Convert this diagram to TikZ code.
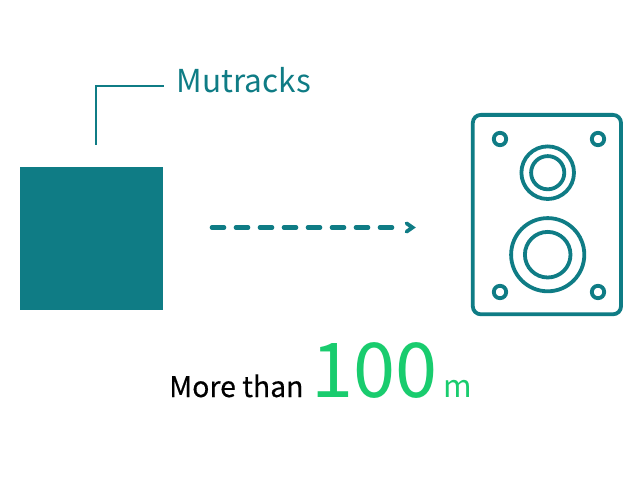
\documentclass[tikz,border=0pt]{standalone}
\usepackage{fontspec}
\setmainfont{Noto Sans CJK JP}
\newfontfamily\medfont[FakeBold=0.4]{Noto Sans CJK JP}
\definecolor{teal1}{HTML}{0F7C85}
\definecolor{green1}{HTML}{19CC6E}
\tikzset{
  stroke/.style={draw=teal1,line width=3.8bp,fill=none},
  label/.style={inner sep=0pt,anchor=base west},
}
\begin{document}
\begin{tikzpicture}[x=1bp,y=-1bp]
\useasboundingbox[fill=white] (0,0) rectangle (640,480);
% source square
\node[fill=teal1,draw=none,minimum width=143bp,minimum height=143bp,inner sep=0pt,anchor=north west] (src) at (20,167.2) {};
% leader
\node[label,text=teal1,font=\fontsize{31.7}{36}\selectfont] (mut) at (176.5,92.5) {Mutracks};
\coordinate (l0) at (96,145);
\coordinate (l1) at (96,86);
\coordinate (l2) at (164,86);
\draw[teal1,line width=2.2bp] (l0) -- (l1) -- (l2);
% dashed arrow
\coordinate (a0) at (212,227.5);
\coordinate (a1) at (392,227.5);
\draw[teal1,line width=4.6bp,line cap=round,dash pattern=on 12bp off 12bp] (a0) -- (a1);
\coordinate (c0) at (406.5,223.3);
\coordinate (c1) at (412.5,227.5);
\coordinate (c2) at (406.5,231.7);
\draw[teal1,line width=3.8bp,line cap=round,line join=miter] (c0) -- (c1) -- (c2);
% speaker
\draw[stroke,rounded corners=8bp] (472.8,114.9) rectangle (621,314.3);
\draw[stroke] (500,139) circle (6.2bp);
\draw[stroke] (598,139) circle (6.2bp);
\draw[stroke] (500,292) circle (6.2bp);
\draw[stroke] (598,292) circle (6.2bp);
\draw[stroke] (547.7,172.7) circle (26.3bp);
\draw[stroke] (547.7,172.7) circle (16.6bp);
\draw[stroke] (547.7,254.7) circle (36.6bp);
\draw[stroke] (547.7,254.7) circle (22.8bp);
% bottom text
\node[label,text=black,font=\fontsize{28.5}{34}\medfont] (more) at (169,397) {More than};
\node[label,text=green1,font=\fontsize{76}{90}\selectfont] (num) at (311,397.5) {100};
\node[label,text=green1,font=\fontsize{31}{36}\selectfont] (unit) at (443,397) {m};
\end{tikzpicture}
\end{document}
